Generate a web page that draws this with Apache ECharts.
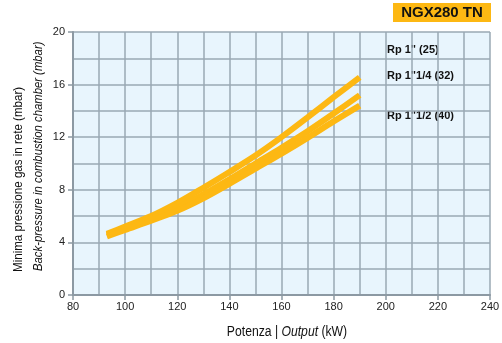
<!DOCTYPE html>
<html><head><meta charset="utf-8">
<script src="https://cdn.jsdelivr.net/npm/echarts@6/dist/echarts.min.js"></script>
<style>html,body{margin:0;padding:0;background:#fff}#c{width:502px;height:343px}</style>
</head><body><div id="c"></div>
<script>
const outputKW = [93, 100, 110, 120, 130, 140, 150, 160, 170, 180, 190];
const rp25 = [4.65, 5.2, 6.0, 7.0, 8.15, 9.35, 10.6, 12.0, 13.5, 15.05, 16.55];
const rp32 = [4.55, 5.05, 5.8, 6.6, 7.65, 8.8, 10.0, 11.2, 12.45, 13.8, 15.2];
const rp40 = [4.45, 4.95, 5.65, 6.4, 7.35, 8.45, 9.6, 10.75, 11.95, 13.2, 14.4];
const seriesNames = ['Rp 1" (25)', 'Rp 1"1/4 (32)', 'Rp 1"1/2 (40)'];
const title = 'NGX280 TN';
const yName1 = 'Minima pressione gas in rete (mbar)';
const yName2 = 'Back-pressure in combustion chamber (mbar)';

const font = '"Liberation Sans", Arial, sans-serif';
const chart = echarts.init(document.getElementById('c'));
const gridC = '#9aa8b3';
const yellow = '#fdb813';
const pair = (xs, ys) => xs.map((x, i) => [x, ys[i]]);
const mk = (name, d) => ({
  name, type: 'line', data: pair(outputKW, d), smooth: 0.3, symbol: 'none',
  xAxisIndex: 1, yAxisIndex: 1,
  lineStyle: {color: yellow, width: 6, cap: 'butt'}, z: 5
});
chart.setOption({
  animation: false,
  grid: {left: 73, right: 12, top: 32, bottom: 48, backgroundColor: '#e8f5fd', show: true, borderWidth: 0,
         containLabel: false, outerBoundsMode: 'none'},
  xAxis: [
    {type: 'value', min: 80, max: 240, interval: 10, axisLabel: {show: false}, axisTick: {show: false},
     axisLine: {show: false}, splitLine: {show: true, lineStyle: {color: gridC, width: 1.5}}},
    {type: 'value', min: 80, max: 240, interval: 20, position: 'bottom',
     axisLine: {show: true, lineStyle: {color: '#8c99a3', width: 2}},
     axisTick: {show: true, length: 5, lineStyle: {color: '#8c99a3', width: 1.5}},
     axisLabel: {color: '#222', fontSize: 11, fontFamily: font, margin: 6},
     splitLine: {show: false}}
  ],
  yAxis: [
    {type: 'value', min: 0, max: 20, interval: 2, axisLabel: {show: false}, axisTick: {show: false},
     axisLine: {show: false}, splitLine: {show: true, lineStyle: {color: gridC, width: 1.5}}},
    {type: 'value', min: 0, max: 20, interval: 4, position: 'left',
     axisLine: {show: true, lineStyle: {color: '#8c99a3', width: 2}},
     axisTick: {show: true, length: 5, lineStyle: {color: '#8c99a3', width: 1.5}},
     axisLabel: {color: '#222', fontSize: 11, fontFamily: font, margin: 8},
     splitLine: {show: false}}
  ],
  series: [mk(seriesNames[0], rp25), mk(seriesNames[1], rp32), mk(seriesNames[2], rp40)],
  graphic: [
    {type: 'rect', left: 393, top: 3, shape: {width: 98, height: 19}, style: {fill: '#fdb813'}},
    {type: 'text', x: 442, y: 13, style: {text: title, font: '900 15px ' + font, fill: '#111', align: 'center', verticalAlign: 'middle'}},
    {type: 'text', left: 387, top: 44, style: {text: seriesNames[0], font: 'bold 11px ' + font, fill: '#111'}},
    {type: 'text', left: 387, top: 70, style: {text: seriesNames[1], font: 'bold 11px ' + font, fill: '#111'}},
    {type: 'text', left: 387, top: 110, style: {text: seriesNames[2], font: 'bold 11px ' + font, fill: '#111'}},
    {type: 'text', x: 18, y: 272, rotation: Math.PI / 2, scaleX: 0.89,
     style: {text: yName1, font: '13px ' + font, fill: '#111', align: 'left', verticalAlign: 'middle'}},
    {type: 'text', x: 38, y: 271, rotation: Math.PI / 2, scaleX: 0.87,
     style: {text: yName2, font: 'italic 13px ' + font, fill: '#111', align: 'left', verticalAlign: 'middle'}},
    {type: 'text', x: 287, y: 332, scaleX: 0.87,
     style: {text: '{b|Potenza | }{i|Output}{b| (kW)}', align: 'center', verticalAlign: 'middle',
       rich: {b: {font: '14px ' + font, fill: '#111'}, i: {font: 'italic 14px ' + font, fill: '#111'}}}}
  ]
});
</script></body></html>
